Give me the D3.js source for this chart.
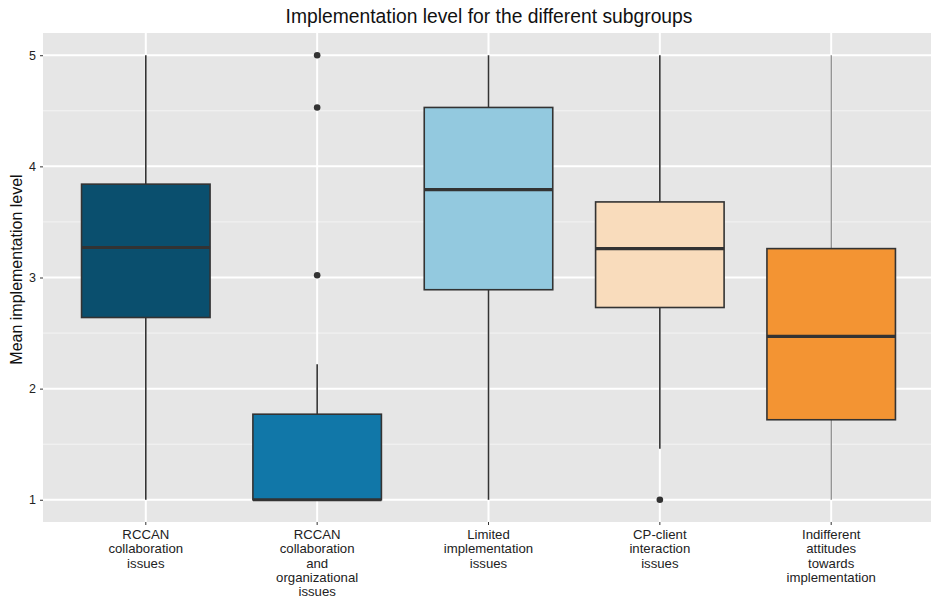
<!DOCTYPE html>
<html><head><meta charset="utf-8">
<script src="https://cdn.jsdelivr.net/npm/d3@7"></script>
<style>body{margin:0;background:#fff;} svg{display:block;font-family:"Liberation Sans",Arial,sans-serif;}</style>
</head><body>
<script>
const categories = [
  "RCCAN\ncollaboration\nissues",
  "RCCAN\ncollaboration\nand\norganizational\nissues",
  "Limited\nimplementation\nissues",
  "CP-client\ninteraction\nissues",
  "Indifferent\nattitudes\ntowards\nimplementation"
];
const whiskerLow  = [1.00, 1.00, 1.00, 1.46, 1.00];
const q1          = [2.64, 1.00, 2.89, 2.73, 1.72];
const median      = [3.27, 1.00, 3.79, 3.26, 2.47];
const q3          = [3.84, 1.77, 4.53, 3.68, 3.26];
const whiskerHigh = [5.00, 2.22, 5.00, 5.00, 5.00];
const outliers    = [[], [3.02, 4.53, 5.00], [], [1.00], []];
const fills       = ["#0a4f6e", "#1177a8", "#93c9df", "#f9dcbc", "#f39433"];
const yTicks      = [1, 2, 3, 4, 5];
const yMinor      = [1.5, 2.5, 3.5, 4.5];

const W = 931, H = 600;
const panel = {left: 43, top: 33, right: 934, bottom: 522};
const svg = d3.select("body").append("svg").attr("width", W).attr("height", H);

const y = d3.scaleLinear().domain([0.8, 5.2]).range([panel.bottom, panel.top]);
// ggplot discrete expansion 0.6 units each side
const x = d3.scalePoint().domain(d3.range(categories.length))
  .range([panel.left, panel.right]).padding(0.6);
const step = x.step();
const xc = i => x(i);
const boxW = step * 0.75;

svg.append("rect").attr("x", panel.left).attr("y", panel.top)
  .attr("width", panel.right - panel.left).attr("height", panel.bottom - panel.top).attr("fill", "#e6e6e6");

const grid = svg.append("g");
yMinor.forEach(v => grid.append("line").attr("x1", panel.left).attr("x2", panel.right)
  .attr("y1", y(v)).attr("y2", y(v)).attr("stroke", "#f4f4f4").attr("stroke-width", 1));
yTicks.forEach(v => grid.append("line").attr("x1", panel.left).attr("x2", panel.right)
  .attr("y1", y(v)).attr("y2", y(v)).attr("stroke", "#fff").attr("stroke-width", 2));
categories.forEach((c, i) => grid.append("line").attr("x1", xc(i)).attr("x2", xc(i))
  .attr("y1", panel.top).attr("y2", panel.bottom).attr("stroke", "#fff").attr("stroke-width", 2));

const g = svg.append("g");
categories.forEach((c, i) => {
  const cx = xc(i);
  const wc = i === 4 ? "#666" : "#333";
  const ww = i === 4 ? 1 : 1.6;
  g.append("line").attr("x1", cx).attr("x2", cx).attr("y1", y(whiskerHigh[i])).attr("y2", y(q3[i]))
    .attr("stroke", wc).attr("stroke-width", ww);
  g.append("line").attr("x1", cx).attr("x2", cx).attr("y1", y(q1[i])).attr("y2", y(whiskerLow[i]))
    .attr("stroke", wc).attr("stroke-width", ww);
  g.append("rect").attr("x", cx - boxW / 2).attr("width", boxW)
    .attr("y", y(q3[i])).attr("height", y(q1[i]) - y(q3[i]))
    .attr("fill", fills[i]).attr("stroke", "#333").attr("stroke-width", 1.6);
  g.append("line").attr("x1", cx - boxW / 2).attr("x2", cx + boxW / 2)
    .attr("y1", y(median[i])).attr("y2", y(median[i])).attr("stroke", "#333").attr("stroke-width", 3.2);
  outliers[i].forEach(v => g.append("circle").attr("cx", cx).attr("cy", y(v)).attr("r", 3.3).attr("fill", "#333"));
});

// y axis
const ya = svg.append("g").attr("transform", `translate(${panel.left},0)`)
  .call(d3.axisLeft(y).tickValues(yTicks).tickSize(3).tickPadding(4).tickFormat(d3.format("d")));
ya.select(".domain").remove();
ya.selectAll("line").attr("stroke", "#333");
ya.selectAll("text").attr("fill", "#222").style("font-size", "12.5px").style("font-family", "Liberation Sans, Arial, sans-serif");

// x axis
const xa = svg.append("g").attr("transform", `translate(0,${panel.bottom})`);
categories.forEach((c, i) => {
  xa.append("line").attr("x1", xc(i)).attr("x2", xc(i)).attr("y1", 0).attr("y2", 3).attr("stroke", "#333");
  const t = xa.append("text").attr("text-anchor", "middle").attr("fill", "#222")
    .style("font-size", "13.2px");
  c.split("\n").forEach((line, k) => t.append("tspan").attr("x", xc(i)).attr("y", 17 + k * 14.3).text(line));
});

svg.append("text").attr("x", 489).attr("y", 23).attr("text-anchor", "middle")
  .style("font-size", "19.3px").attr("fill", "#111").text("Implementation level for the different subgroups");
svg.append("text").attr("transform", `translate(22,${(panel.top + panel.bottom) / 2 - 8}) rotate(-90)`)
  .attr("text-anchor", "middle").style("font-size", "16px").attr("fill", "#111").text("Mean implementation level");
</script>
</body></html>
